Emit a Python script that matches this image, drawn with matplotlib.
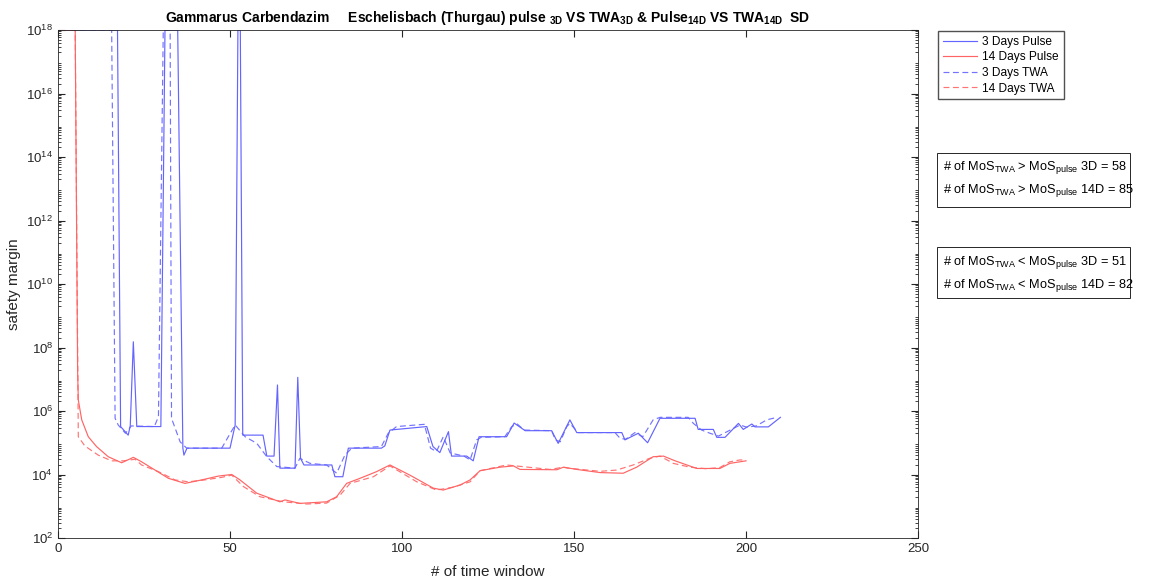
import numpy as np
import matplotlib
matplotlib.use("Agg")
import matplotlib.pyplot as plt
from matplotlib.ticker import LogLocator, NullFormatter
from matplotlib.patches import Rectangle

plt.rcParams["font.family"] = ["Liberation Sans", "DejaVu Sans"]
plt.rcParams["mathtext.fontset"] = "custom"
plt.rcParams["mathtext.rm"] = "Liberation Sans"
plt.rcParams["mathtext.bf"] = "Liberation Sans:bold"

# values, y given as log10(safety margin)
pulse3d_x = [1, 17.3, 18.2, 20.4, 21, 21.9, 22.9, 29.9, 31.1, 34.8, 36.3, 36.6, 37.5, 50,
             51.5, 52.3, 53, 53.7, 59.6, 60.7, 62.8, 63.8, 64.5, 68.9, 69.7, 70.5, 71.5,
             79.6, 80.5, 82.8, 84.4, 94, 95, 96.5, 107.2, 109, 111, 113.5, 114.4, 118.8,
             120.7, 122.4, 130.4, 132.6, 135.8, 143.5, 145.4, 148.8, 150.8, 163.9, 164.8,
             168.7, 171.4, 175, 185.2, 186.1, 190.5, 191.5, 193.9, 197.8, 199.2, 201.7,
             202.6, 206.5, 210]
pulse3d_log = [18, 18, 5.51, 5.24, 5.53, 8.18, 5.51, 5.51, 18, 18, 4.83, 4.61, 4.83, 4.83,
               5.56, 18, 18, 5.24, 5.24, 4.58, 4.58, 6.82, 4.2, 4.2, 7.06, 4.51, 4.3,
               4.3, 3.93, 3.93, 4.83, 4.83, 4.9, 5.4, 5.51, 4.88, 4.69, 5.35, 4.58, 4.58,
               4.43, 5.19, 5.19, 5.62, 5.38, 5.38, 4.98, 5.72, 5.32, 5.32, 5.09,
               5.3, 5.0, 5.77, 5.77, 5.42, 5.42, 5.17, 5.17, 5.61, 5.42, 5.59,
               5.5, 5.5, 5.8]

twa3d_x = [1, 15.6, 16.6, 17.5, 19.6, 21.3, 28, 29.2, 30.6, 32.6, 33, 35.5, 37.4, 47.6,
           49.5, 51.5, 54.4, 57.8, 60.7, 63.6, 68.9, 70.3, 73.3, 78.1, 81, 83.4, 85.4,
           94, 96, 98.4, 106.5, 108.3, 110, 112, 114, 118, 119.8, 121.7, 123, 129.9,
           131.9, 133.5, 135.5, 143.5, 144.6, 146, 147.9, 148.8, 151.2, 161.9, 163.4,
           165, 167.7, 170, 173, 175, 183.2, 184.7, 187.1, 189.5, 192, 195.4, 198.3,
           200.2, 203, 206, 209]
twa3d_log = [18, 18, 5.77, 5.56, 5.3, 5.53, 5.51, 5.82, 18, 18, 5.77, 5.03, 4.83, 4.83,
             5.19, 5.56, 5.19, 4.98, 4.56, 4.25, 4.2, 4.51, 4.35, 4.3, 4.04, 4.61, 4.83,
             4.88, 5.3, 5.51, 5.58, 4.83, 4.72, 5.19, 4.68, 4.58, 4.46, 5.09, 5.17, 5.19,
             5.51, 5.59, 5.4, 5.38, 5.09, 5.03, 5.51, 5.61, 5.32, 5.32, 5.14,
             5.11, 5.32, 5.19, 5.72, 5.8, 5.8, 5.61, 5.4, 5.3, 5.21, 5.4, 5.56,
             5.49, 5.53, 5.72, 5.8]

pulse14d_x = [1, 5, 5.7, 5.9, 6.9, 8.8, 11.2, 14.6, 18.5, 21.9, 24.3, 28.2, 32.1, 36.9,
              41.8, 46.6, 50.5, 52.9, 57.8, 64.5, 66, 70.3, 78.1, 81, 83.9, 87.8, 92.6,
              96.5, 102.3, 109.1, 112, 116.9, 119.8, 122.7, 128.5, 132.4, 134.3, 145,
              146.9, 150.8, 157.6, 164.3, 168.2, 173, 176, 179.4, 185.7, 192.4, 195.3,
              200]
pulse14d_log = [18, 18, 7.29, 6.35, 5.72, 5.19, 4.88, 4.56, 4.37, 4.54, 4.4, 4.14, 3.88, 3.72,
                3.83, 3.95, 4.0, 3.83, 3.41, 3.14, 3.2, 3.09, 3.14, 3.3, 3.72, 3.88, 4.09,
                4.3, 3.98, 3.57, 3.51, 3.67, 3.83, 4.12, 4.23, 4.27, 4.16, 4.15,
                4.23, 4.16, 4.06, 4.04, 4.23, 4.56, 4.58, 4.43, 4.19, 4.19, 4.35,
                4.43]

twa14d_x = [1, 5, 5.9, 7.8, 11.7, 15.6, 19, 22.4, 24.3, 29.2, 34, 37.9, 42.7, 47.6, 50.5,
            53.9, 58.7, 65.5, 72.3, 78.1, 82, 84.9, 91.7, 96.5, 104.3, 110, 114.9, 119.8,
            122.7, 130.4, 143, 146.9, 148.3, 157.6, 162.4, 167.2, 172, 175, 178.9, 183.7,
            188.6, 192.4, 195.3, 198.3, 200]
twa14d_log = [18, 18, 5.19, 4.9, 4.61, 4.43, 4.43, 4.48, 4.3, 4.09, 3.83, 3.77, 3.83, 3.91, 3.98,
              3.62, 3.3, 3.14, 3.07, 3.1, 3.35, 3.72, 3.93, 4.27, 3.77, 3.51, 3.6, 3.77,
              4.12, 4.3, 4.16, 4.23, 4.2, 4.1, 4.14, 4.3, 4.51, 4.58, 4.35, 4.23,
              4.18, 4.22, 4.4, 4.46, 4.45]

count_3d_gt, count_14d_gt = 58, 85
count_3d_lt, count_14d_lt = 51, 82

blue = "#6464ff"
red = "#ff6464"

W, H = 1154, 583
fig = plt.figure(figsize=(W / 100, H / 100), dpi=100)
ax = fig.add_axes([58 / W, 1 - 538 / H, (918 - 58) / W, (538 - 30) / H])

ax.plot(pulse3d_x, 10.0 ** np.array(pulse3d_log), color=blue, lw=0.85, label="3 Days Pulse")
ax.plot(pulse14d_x, 10.0 ** np.array(pulse14d_log), color=red, lw=0.85, label="14 Days Pulse")
ax.plot(twa3d_x, 10.0 ** np.array(twa3d_log), color=blue, lw=0.85, ls=(0, (5, 3)),
        alpha=0.9, label="3 Days TWA")
ax.plot(twa14d_x, 10.0 ** np.array(twa14d_log), color=red, lw=0.85, ls=(0, (5, 3)),
        alpha=0.9, label="14 Days TWA")

ax.set_yscale("log")
ax.set_xlim(0, 250)
ax.set_ylim(1e2, 1e18)
ax.set_xticks([0, 50, 100, 150, 200, 250])
ax.set_yticks([10.0 ** k for k in range(2, 19, 2)])
ax.yaxis.set_minor_locator(LogLocator(base=10, subs=np.arange(2, 10), numticks=100))
ax.yaxis.set_minor_formatter(NullFormatter())
ax.tick_params(which="both", direction="in", top=True, right=True, colors="#262626",
               labelsize=9.5)
ax.tick_params(which="major", length=5)
ax.tick_params(which="minor", length=2.5)
for s in ax.spines.values():
    s.set_color("#262626")
    s.set_linewidth(0.6)

ax.set_xlabel("# of time window", fontsize=11, color="#262626", labelpad=7)
ax.set_ylabel("safety margin", fontsize=11, color="#262626")
ax.set_title(r"Gammarus Carbendazim     Eschelisbach (Thurgau) pulse $_{\mathbf{3D}}$ VS TWA$_{\mathbf{3D}}$"
             r" & Pulse$_{\mathbf{14D}}$ VS TWA$_{\mathbf{14D}}$  SD",
             fontsize=10, fontweight="bold", pad=6)

fig.legend(loc="upper left", bbox_to_anchor=(938 / W, 1 - 31 / H), fontsize=8.6,
           frameon=True, fancybox=False, edgecolor="#262626", handlelength=2.9,
           borderaxespad=0, labelspacing=0.3, borderpad=0.4, handletextpad=0.4)

boxes = [(153, 207, "> ", count_3d_gt, count_14d_gt), (247, 298, "< ", count_3d_lt, count_14d_lt)]
for top, bot, sign, c3, c14 in boxes:
    fig.patches.append(Rectangle((937 / W, 1 - bot / H), (1130 - 937) / W, (bot - top) / H,
                                 transform=fig.transFigure, fill=False,
                                 edgecolor="#262626", lw=0.7))
    fig.text(943 / W, 1 - (top + 15) / H,
             "# of MoS$_{\\mathrm{TWA}}$ " + sign + "MoS$_{\\mathrm{pulse}}$ 3D = " + str(c3),
             fontsize=9.2, va="center")
    fig.text(943 / W, 1 - (top + 38) / H,
             "# of MoS$_{\\mathrm{TWA}}$ " + sign + "MoS$_{\\mathrm{pulse}}$ 14D = " + str(c14),
             fontsize=9.2, va="center")

fig.savefig("out.png", dpi=100)
